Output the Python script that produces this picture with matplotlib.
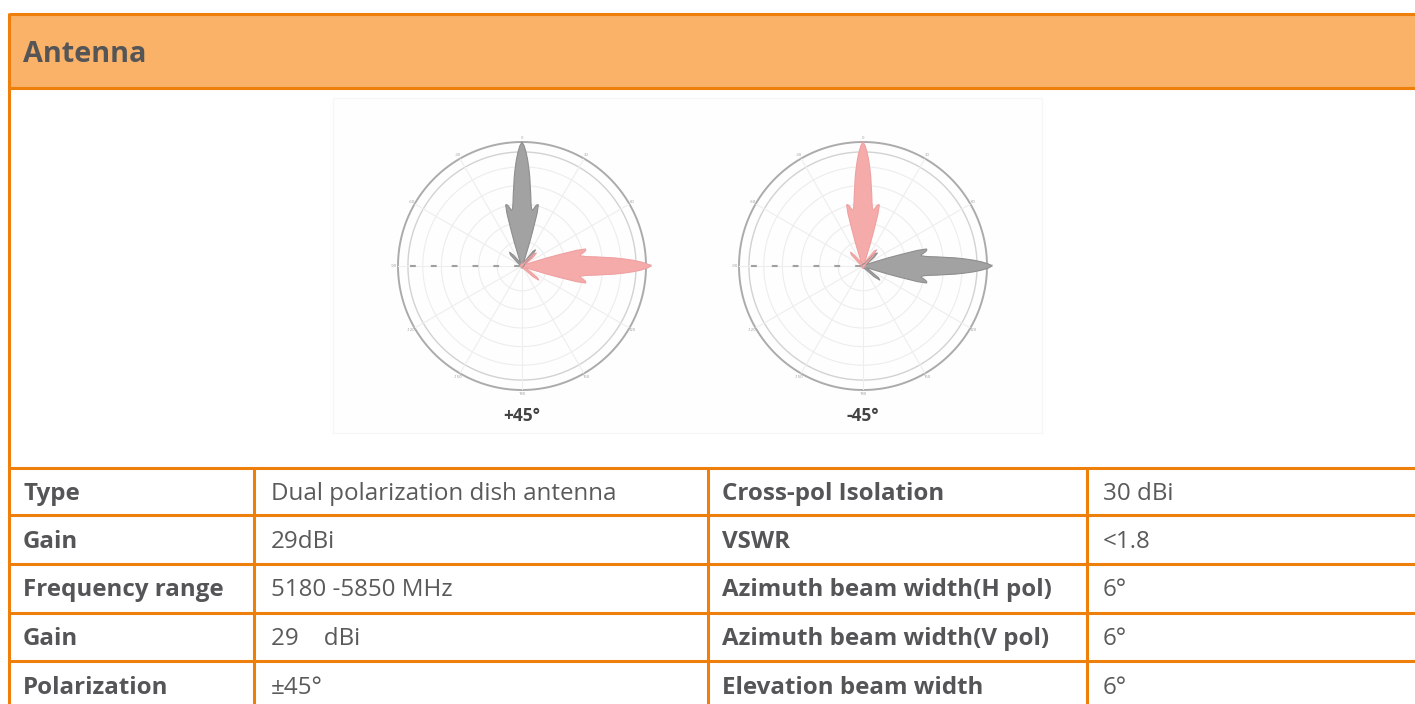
import matplotlib
matplotlib.use("Agg")
import matplotlib.pyplot as plt
import numpy as np
from matplotlib.patches import Rectangle

plt.rcParams['font.family'] = ['Open Sans', 'DejaVu Sans']

# ---------------- data ----------------
title = "Antenna"
left_labels = ["Type", "Gain", "Frequency range", "Gain", "Polarization"]
left_values = ["Dual polarization dish antenna", "29dBi", "5180 -5850 MHz", "29    dBi", "±45°"]
right_labels = ["Cross-pol Isolation", "VSWR", "Azimuth beam width(H pol)",
                "Azimuth beam width(V pol)", "Elevation beam width"]
right_values = ["30 dBi", "<1.8", "6°", "6°", "6°"]

# antenna pattern: offset from boresight (deg) and relative radius
pattern_deg = [-180, -90, -62, -52, -46, -42, -38, -32, -25, -21, -19, -18, -17, -16,
               -15, -14, -13, -12, -11, -10, -9, -8, -7, -6, -5, -4, -3, -2, -1, 0,
               1, 2, 3, 4, 5, 6, 7, 8, 9, 10, 11, 12, 13, 14, 15, 16, 17, 18, 19,
               21, 25, 32, 37, 40, 44, 50, 62, 90, 180]
pattern_r = [0.015, 0.015, 0.02, 0.05, 0.13, 0.15, 0.11, 0.04, 0.03, 0.06, 0.12, 0.20,
             0.30, 0.44, 0.51, 0.51, 0.50, 0.48, 0.46, 0.46, 0.48, 0.52, 0.58, 0.64,
             0.72, 0.79, 0.86, 0.92, 0.97, 1.00,
             0.97, 0.92, 0.86, 0.79, 0.72, 0.64, 0.58, 0.52, 0.48, 0.46, 0.46, 0.48,
             0.50, 0.51, 0.51, 0.44, 0.30, 0.20, 0.12, 0.06, 0.03, 0.05, 0.15, 0.17,
             0.12, 0.04, 0.02, 0.015, 0.015]

# two plots: label, boresight of gray lobe, boresight of red lobe
plot_labels = ["+45°", "-45°"]
gray_boresight = [0, 90]
red_boresight = [90, 0]
peak_vertical = 1.00
peak_horizontal = 1.04
angle_ticks = [0, 30, 60, 90, 120, 150, 180, 210, 240, 270, 300, 330]
angle_tick_labels = ["0", "30", "60", "90", "120", "150", "180", "-150", "-120", "-90", "-60", "-30"]

# ---------------- layout ----------------
W, H = 1415, 704
fig = plt.figure(figsize=(W / 100, H / 100), dpi=100)
ax = fig.add_axes([0, 0, 1, 1])
ax.set_xlim(0, W)
ax.set_ylim(H, 0)
ax.axis('off')

orange = '#EE7F0A'
header_fill = '#F9B267'
label_col = '#555558'
value_col = '#5A5A5A'
lw = 2.2

# faint picture background box
ax.add_patch(Rectangle((333, 98), 709, 335, facecolor='#FEFEFE', edgecolor='#F6F6F6', lw=1, zorder=0))

# header
ax.add_patch(Rectangle((8.5, 13.5), W, 74, facecolor=header_fill, edgecolor='none', zorder=1))
ax.plot([8.5, W], [13.5, 13.5], color=orange, lw=lw, solid_capstyle='butt', zorder=3)
ax.plot([8.5, W], [87.5, 87.5], color=orange, lw=lw, solid_capstyle='butt', zorder=3)
ax.plot([8.5, 8.5], [12.5, H], color=orange, lw=lw, solid_capstyle='butt', zorder=3)
ax.text(23, 62, title, fontsize=20.8, fontweight='bold', color=label_col, va='baseline', ha='left')

# table
row_tops = [467.5, 515, 564, 612.5, 661]
for y in row_tops:
    ax.plot([8.5, W], [y, y], color=orange, lw=lw, solid_capstyle='butt', zorder=3)
for x in [254, 708, 1087]:
    ax.plot([x, x], [467.5, H], color=orange, lw=lw, solid_capstyle='butt', zorder=3)

fs_label = 17.4
fs_value = 17.4
for i, y in enumerate(row_tops):
    yb = y + 32.5
    ax.text(23, yb, left_labels[i], fontsize=fs_label, fontweight='bold', color=label_col, va='baseline')
    ax.text(271, yb, left_values[i], fontsize=fs_value, color=value_col, va='baseline')
    ax.text(722, yb, right_labels[i], fontsize=fs_label, fontweight='bold', color=label_col, va='baseline')
    ax.text(1103, yb, right_values[i], fontsize=fs_value, color=value_col, va='baseline')

# polar plots
centers = [(522, 266), (863, 266)]
R = 124
theta_p = np.deg2rad(np.array(pattern_deg, dtype=float))
r_p = np.array(pattern_r, dtype=float)

for k, (cx, cy) in enumerate(centers):
    pax = fig.add_axes([(cx - R) / W, (H - (cy + R)) / H, 2 * R / W, 2 * R / H], projection='polar')
    pax.set_theta_zero_location('N')
    pax.set_theta_direction(-1)
    pax.set_ylim(0, 1)
    pax.set_facecolor('none')
    pax.grid(False)
    pax.set_xticks([])
    pax.set_yticks([])
    pax.spines['polar'].set_visible(False)
    t = np.linspace(0, 2 * np.pi, 361)
    for rr in [0.2, 0.35, 0.5, 0.65, 0.8]:
        pax.plot(t, np.full_like(t, rr), color='#EDEDED', lw=0.8, zorder=1)
    pax.plot(t, np.full_like(t, 0.92), color='#D2D2D2', lw=1.0, zorder=1)
    pax.plot(t, np.full_like(t, 1.0), color='#ABABAB', lw=1.4, zorder=1, clip_on=False)
    for a in range(0, 360, 30):
        pax.plot([np.deg2rad(a)] * 2, [0, 1.0], color='#EEEEEE', lw=0.8, zorder=1)
    pax.plot([np.deg2rad(270)] * 2, [0.02, 1.0], color='#A0A0A0', lw=1.5,
             linestyle=(0, (2.8, 7.2)), zorder=2)
    for a, lab in zip(angle_ticks, angle_tick_labels):
        pax.text(np.deg2rad(a), 1.03, lab, fontsize=3, color='#9A9A9A', ha='center', va='center',
                 clip_on=False)

    # lobes
    for bs, col, ec in [(gray_boresight[k], '#A2A2A2', '#8E8E8E'), (red_boresight[k], '#F6ABAB', '#EFA0A0')]:
        peak = peak_vertical if bs == 0 else peak_horizontal
        th = theta_p + np.deg2rad(bs)
        pax.fill(th, r_p * peak, color=col, zorder=4, clip_on=False, lw=0)
        pax.plot(th, r_p * peak, color=ec, lw=0.8, zorder=5, clip_on=False)

    ax.text(cx, 416, plot_labels[k], fontsize=12.5, fontweight='bold', color='#444444',
            ha='center', va='center')

fig.savefig('out.png', dpi=100)
